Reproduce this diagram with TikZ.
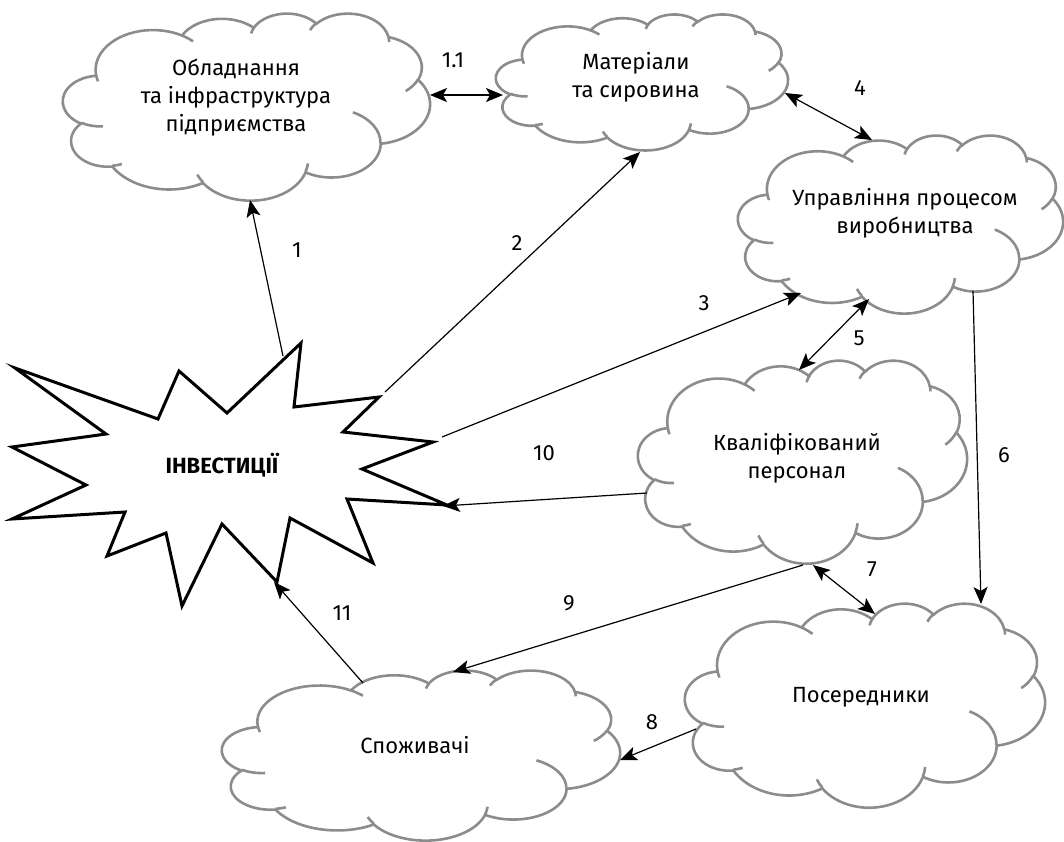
\documentclass[tikz,border=0pt]{standalone}
\usepackage{fontspec}
\setmainfont{Fira Sans}
\usetikzlibrary{arrows.meta}
\definecolor{cloudgray}{RGB}{140,140,140}

\begin{document}
\begin{tikzpicture}[
  x=0.5pt, y=-0.5pt,
  cloudline/.style={draw=cloudgray, line width=1.3pt},
  cloudtext/.style={align=center, inner sep=0pt, font=\fontsize{11}{14}\selectfont},
  numlabel/.style={inner sep=0pt, font=\fontsize{11}{14}\selectfont},
  wire/.style={-{Stealth[length=8.5pt, width=7pt, inset=2pt]}, line width=0.6pt},
  dwire/.style={{Stealth[length=8.5pt, width=7pt, inset=2pt]}-{Stealth[length=8.5pt, width=7pt, inset=2pt]}, line width=0.6pt},
  burst/.style={draw=black, line width=1.5pt, fill=white},
  cloudpic/.pic={
    % outline of the cloud (box 43.2 x 43.2)
    \path[cloudline, fill=white] (3.9,14.37)
      arc[start angle=-187.75, delta angle=128.09, x radius=6.753, y radius=9.19]
      arc[start angle=-152.03, delta angle=106.60, x radius=5.333, y radius=7.267]
      arc[start angle=-153.49, delta angle=116.16, x radius=4.365, y radius=5.945]
      arc[start angle=-139.71, delta angle=129.50, x radius=4.857, y radius=6.595]
      arc[start angle=-74.77, delta angle=97.98, x radius=5.333, y radius=7.273]
      arc[start angle=-37.52, delta angle=119.38, x radius=6.775, y radius=9.22]
      arc[start angle=0.46, delta angle=121.52, x radius=5.785, y radius=7.867]
      arc[start angle=16.84, delta angle=129.38, x radius=6.752, y radius=9.215]
      arc[start angle=59.00, delta angle=91.19, x radius=7.72, y radius=10.543]
      arc[start angle=-276.69, delta angle=139.77, x radius=4.36, y radius=5.918]
      arc[start angle=-239.65, delta angle=143.76, x radius=4.345, y radius=5.945]
      -- cycle;
    % inner strokes
    \draw[cloudline]
      (4.693,26.177) arc[start angle=85.55, delta angle=34.80, x radius=4.345, y radius=5.945]
      (6.928,34.899) arc[start angle=68.24, delta angle=15.07, x radius=4.36, y radius=5.918]
      (16.478,39.09) arc[start angle=146.22, delta angle=12.25, x radius=6.752, y radius=9.215]
      (28.827,34.751) arc[start angle=4.74, delta angle=12.10, x radius=6.752, y radius=9.215]
      (34.129,22.954) arc[start angle=-64.03, delta angle=64.49, x radius=5.785, y radius=7.867]
      (41.798,15.354) arc[start angle=23.21, delta angle=26.43, x radius=5.333, y radius=7.273]
      (38.324,5.426) arc[start angle=-10.21, delta angle=11.03, x radius=4.857, y radius=6.595]
      (29.078,3.952) arc[start angle=-156.29, delta angle=16.58, x radius=4.857, y radius=6.595]
      (22.141,4.72) arc[start angle=-167.73, delta angle=14.24, x radius=4.365, y radius=5.945]
      (14,5.192) arc[start angle=-59.66, delta angle=13.92, x radius=6.753, y radius=9.19]
      (4.127,15.789) arc[start angle=163.20, delta angle=9.05, x radius=6.753, y radius=9.19];
  }
]
\useasboundingbox (0,0) rectangle (1064,841);

% Clouds (shifted to their top left corner, scaled to width/height)
\pic[shift={(63,13)}, xscale=8.495, yscale=4.329] {cloudpic};
\pic[shift={(496,14)}, xscale=6.759, yscale=3.148] {cloudpic};
\pic[shift={(738,135)}, xscale=7.523, yscale=4.120] {cloudpic};
\pic[shift={(638,360)}, xscale=7.616, yscale=4.699] {cloudpic};
\pic[shift={(685,603)}, xscale=8.333, yscale=4.722] {cloudpic};
\pic[shift={(222,670)}, xscale=9.213, yscale=3.935] {cloudpic};

% Burst
\draw[burst] (15,368) -- (158,419) -- (179,371) -- (227,413) -- (301,343)
  -- (294,407) -- (379,397) -- (343,432) -- (433,442) -- (362,469)
  -- (447,505) -- (347,499) -- (373,563) -- (290,518) -- (277,582)
  -- (222,524) -- (182,606) -- (166,533) -- (107,556) -- (125,512)
  -- (12,519) -- (86,485) -- (12,447) -- (106,434) -- cycle;

% Texts
\node[cloudtext] (equip) at (236,98) {Обладнання\\та інфраструктура\\підприємства};
\node[cloudtext] (mater) at (636,77) {Матеріали\\та сировина};
\node[cloudtext] (manage) at (905,213) {Управління процесом\\виробництва};
\node[cloudtext] (staff) at (797,458) {Кваліфікований\\персонал};
\node[cloudtext] (agents) at (861,697) {Посередники};
\node[cloudtext] (consum) at (415,745) {Споживачі};
\node[cloudtext, font=\fontsize{11}{14}\selectfont\bfseries] (invest) at (222,465) {ІНВЕСТИЦІЇ};

% Ports on the borders
\coordinate (equip_s) at (250,200);
\coordinate (equip_e) at (430,95);
\coordinate (mater_w) at (503,95);
\coordinate (mater_s) at (640,152);
\coordinate (mater_se) at (785,93);
\coordinate (manage_nw) at (872,140);
\coordinate (manage_sw) at (801,293);
\coordinate (manage_s) at (869,299);
\coordinate (manage_se) at (973,291);
\coordinate (staff_n) at (799,370);
\coordinate (staff_w) at (647,493);
\coordinate (staff_s) at (813,565);
\coordinate (staff_sw) at (803,565);
\coordinate (agents_n) at (875,614);
\coordinate (agents_ne) at (981,604);
\coordinate (agents_w) at (696,729);
\coordinate (consum_e) at (620,760);
\coordinate (consum_n) at (453,672);
\coordinate (consum_nw) at (363,683);
\coordinate (invest_1) at (283,356);
\coordinate (invest_2) at (385,392);
\coordinate (invest_3) at (442,437);
\coordinate (invest_10) at (443,506);
\coordinate (invest_11) at (274,582);

% Wires
\draw[wire] (invest_1) -- (equip_s);
\draw[dwire] (equip_e) -- (mater_w);
\draw[wire] (invest_2) -- (mater_s);
\draw[wire] (invest_3) -- (manage_sw);
\draw[dwire] (mater_se) -- (manage_nw);
\draw[dwire] (manage_s) -- (staff_n);
\draw[wire] (manage_se) -- (agents_ne);
\draw[dwire] (staff_s) -- (agents_n);
\draw[wire] (agents_w) -- (consum_e);
\draw[wire] (staff_sw) -- (consum_n);
\draw[wire] (staff_w) -- (invest_10);
\draw[wire] (consum_nw) -- (invest_11);

% Labels
\node[numlabel] (lab1) at (297,250) {1};
\node[numlabel] (lab11a) at (453,60) {1.1};
\node[numlabel] (lab2) at (517,243) {2};
\node[numlabel] (lab3) at (704,303) {3};
\node[numlabel] (lab4) at (860,88) {4};
\node[numlabel] (lab5) at (859,338) {5};
\node[numlabel] (lab6) at (1004,455) {6};
\node[numlabel] (lab7) at (872,569) {7};
\node[numlabel] (lab8) at (652,722) {8};
\node[numlabel] (lab9) at (569,603) {9};
\node[numlabel] (lab10) at (544,453) {10};
\node[numlabel] (lab11) at (342,613) {11};

\end{tikzpicture}
\end{document}
